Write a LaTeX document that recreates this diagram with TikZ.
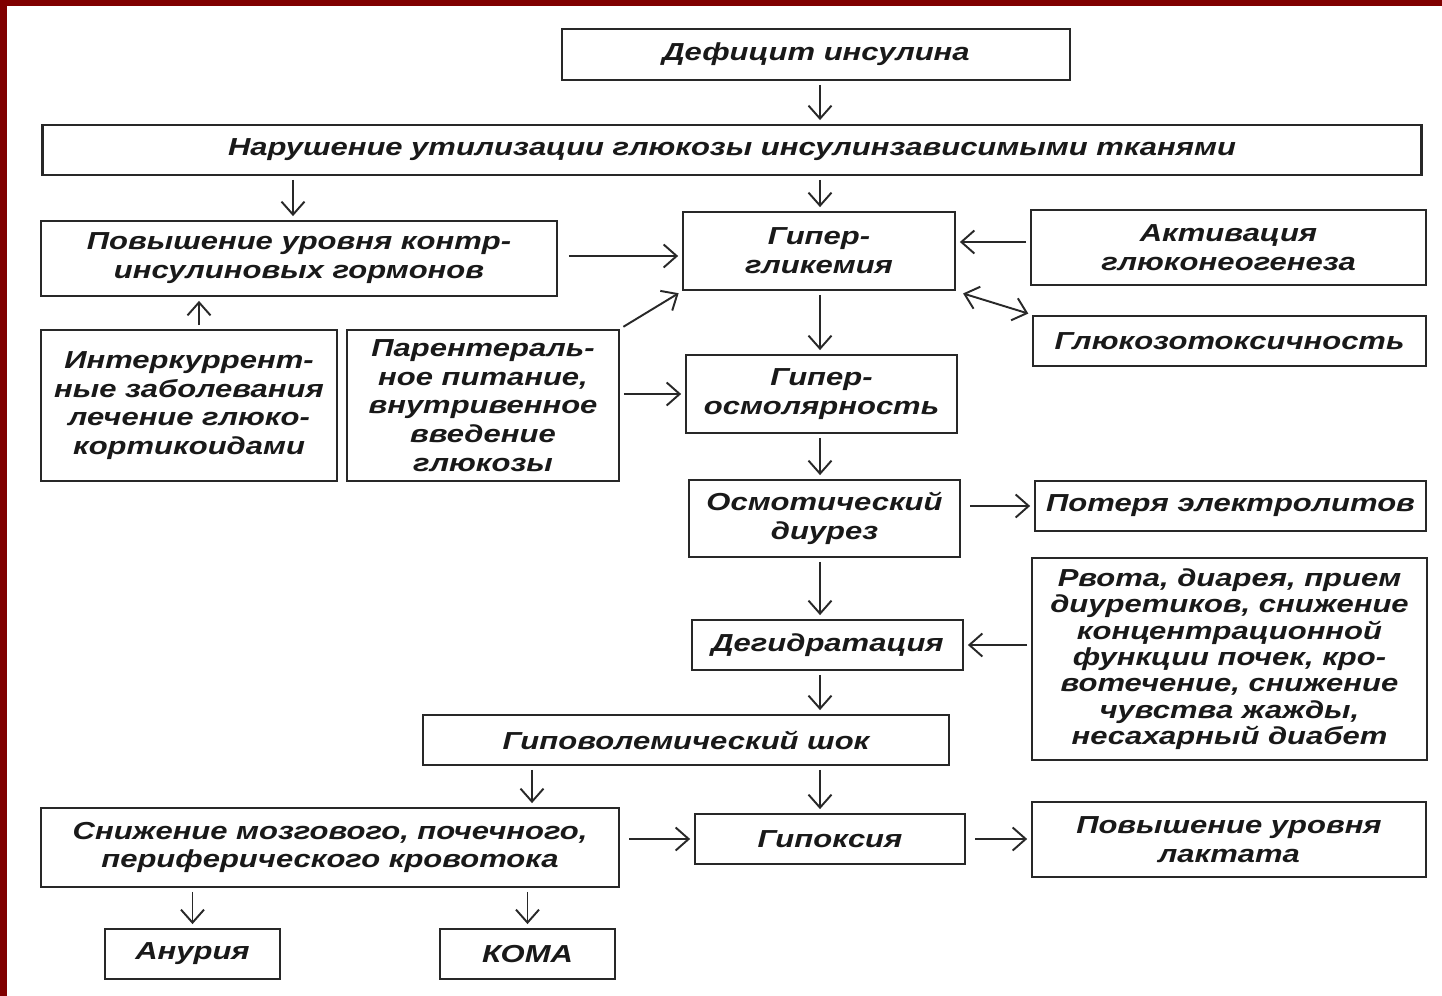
\documentclass[tikz,border=0pt]{standalone}
\usepackage{fontspec}
\setmainfont{Liberation Sans}
\newfontfamily\boxfont[FakeStretch=1.26]{Liberation Sans}
\usetikzlibrary{arrows.meta,positioning}
\definecolor{frame}{RGB}{128,0,0}
\definecolor{ink}{RGB}{40,40,40}
\tikzset{>={Straight Barb[length=2.6mm,width=4.6mm]}}
\tikzset{box/.style={draw=ink,line width=1.6pt,fill=white,align=center,inner sep=0pt,text=black!90,font=\boxfont\bfseries\itshape\fontsize{14}{16.4}\selectfont}}
\tikzset{flow/.style={->,line width=1.1pt,ink,shorten <=2pt,shorten >=2pt}}

\begin{document}
\begin{tikzpicture}[x=0.02cm,y=-0.02cm]
\useasboundingbox (0,0) rectangle (1442,996);
\fill[frame] (0,0) rectangle (1442,996);
\fill[white] (7,6) rectangle (1442,996);
\coordinate (axis) at (820,0);

\node (deficit) [box,minimum width=10.16cm,minimum height=1.02cm] at (816,54.5) {Дефицит инсулина};
\node (utiliz) [box,minimum width=27.6cm,minimum height=1cm] at (732,150) {Нарушение утилизации глюкозы инсулинзависимыми тканями};
\node (counter) [box,minimum width=10.32cm,minimum height=1.5cm] at (299,258.5) {Повышение уровня контр-\\инсулиновых гормонов};
\node (hyperglyc) [box,minimum width=5.44cm,minimum height=1.56cm] at (819,251) {Гипер-\\гликемия};
\node (gluconeo) [box,minimum width=7.9cm,minimum height=1.5cm] at (1228.5,247.5) {Активация\\глюконеогенеза};
\node (toxic) [box,minimum width=7.86cm,minimum height=1cm] at (1229.5,341) {Глюкозотоксичность};
\node (intercur) [box,minimum width=5.92cm,minimum height=3.02cm] at (189,405.5) {Интеркуррент-\\ные заболевания\\лечение глюко-\\кортикоидами};
\node (parent) [box,minimum width=5.44cm,minimum height=3.02cm] at (483,405.5) {Парентераль-\\ное питание,\\внутривенное\\введение\\глюкозы};
\node (hyperosm) [box,minimum width=5.42cm,minimum height=1.56cm] at (821.5,394) {Гипер-\\осмолярность};
\node (diuresis) [box,minimum width=5.42cm,minimum height=1.54cm] at (824.5,518.5) {Осмотический\\диурез};
\node (electro) [box,minimum width=7.82cm,minimum height=1cm] at (1230.5,506) {Потеря электролитов};
\node (causes) [box,minimum width=7.9cm,minimum height=4.04cm,font=\boxfont\bfseries\itshape\fontsize{14}{15}\selectfont] at (1229.5,659) {Рвота, диарея, прием\\диуретиков, снижение\\концентрационной\\функции почек, кро-\\вотечение, снижение\\чувства жажды,\\несахарный диабет};
\node (dehydr) [box,minimum width=5.42cm,minimum height=1cm] at (827.5,645) {Дегидратация};
\node (shock) [box,minimum width=10.52cm,minimum height=1cm] at (686,740) {Гиповолемический шок};
\node (blood) [box,minimum width=11.56cm,minimum height=1.58cm] at (330,847.5) {Снижение мозгового, почечного,\\периферического кровотока};
\node (hypoxia) [box,minimum width=5.4cm,minimum height=1cm] at (830,839) {Гипоксия};
\node (lactate) [box,minimum width=7.88cm,minimum height=1.5cm] at (1229,839.5) {Повышение уровня\\лактата};
\node (anuria) [box,minimum width=3.5cm,minimum height=1cm] at (192.5,954) {Анурия};
\node (coma) [box,minimum width=3.5cm,minimum height=1cm] at (527.5,954) {КОМА};

\draw[flow] (deficit.south -| axis) -- (utiliz.north -| axis);
\draw[flow] (utiliz.south -| axis) -- (hyperglyc.north -| axis);
\draw[flow] ([xshift=-0.12cm]utiliz.south -| counter.north) -- ([xshift=-0.12cm]counter.north);
\draw[flow,shorten <=6pt] (counter.east |- 0,256) -- (hyperglyc.west |- 0,256);
\draw[flow] ([xshift=0.2cm]intercur.north) -- ([xshift=0.2cm]intercur.north |- counter.south);
\draw[flow] (parent.north east) -- (hyperglyc.south west);
\draw[flow] (hyperosm.west -| parent.east) -- (hyperosm.west);
\draw[flow] (gluconeo.west |- 0,242) -- (hyperglyc.east |- 0,242);
\draw[<->,line width=1.1pt,ink,shorten <=4pt,shorten >=2pt] (hyperglyc.south east) -- (toxic.north west);
\draw[flow] (hyperglyc.south -| axis) -- (hyperosm.north -| axis);
\draw[flow] (hyperosm.south -| axis) -- (diuresis.north -| axis);
\draw[flow,shorten <=5pt] (electro.west -| diuresis.east) -- (electro.west);
\draw[flow] (diuresis.south -| axis) -- (dehydr.north -| axis);
\draw[flow] (dehydr.east -| causes.west) -- (dehydr.east);
\draw[flow] (dehydr.south -| axis) -- (shock.north -| axis);
\draw[flow] ([xshift=0.09cm]shock.south -| coma.north) -- ([xshift=0.09cm]blood.north -| coma.north);
\draw[flow] (shock.south -| axis) -- (hypoxia.north -| axis);
\draw[flow,shorten <=5pt] (hypoxia.west -| blood.east) -- (hypoxia.west);
\draw[flow,shorten <=5pt] (hypoxia.east) -- (hypoxia.east -| lactate.west);
\draw[flow] (blood.south -| anuria.north) -- (anuria.north);
\draw[flow] (blood.south -| coma.north) -- (coma.north);
\end{tikzpicture}
\end{document}
